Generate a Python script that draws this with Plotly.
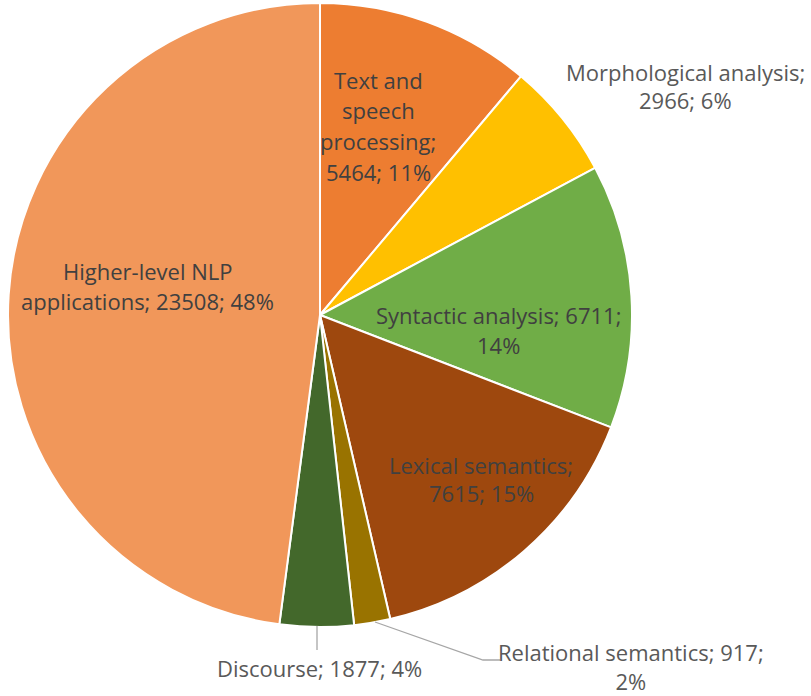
import plotly.graph_objects as go

W, H = 811, 696

categories = ["Text and speech processing", "Morphological analysis", "Syntactic analysis",
              "Lexical semantics", "Relational semantics", "Discourse", "Higher-level NLP applications"]
values = [5464, 2966, 6711, 7615, 917, 1877, 23508]
percents = ["11%", "6%", "14%", "15%", "2%", "4%", "48%"]
colors = ["#ED7D31", "#FFC000", "#70AD47", "#9E480E", "#997300", "#43682B", "#F1975A"]

FONT = "Open Sans"
FSIZE = 22
IN_COL = "#404040"
OUT_COL = "#595959"


def px(x):
    return x / W


def py(y):
    return 1 - y / H


fig = go.Figure(go.Pie(
    labels=categories, values=values, sort=False, direction="clockwise", rotation=0,
    marker=dict(colors=colors, line=dict(color="white", width=2)),
    textinfo="none", hoverinfo="label+value+percent", showlegend=False,
    domain=dict(x=[px(8), px(632)], y=[py(627), py(3)]),
))

v, p = values, percents
labels_spec = [
    # (lines, center x, first line center y, line spacing, color)
    (["Text and", "speech", "processing;", f"{v[0]}; {p[0]}"], 378, 80, 30.5, IN_COL),
    (["Morphological analysis;", f"{v[1]}; {p[1]}"], 685, 72, 28, OUT_COL),
    ([f"Syntactic analysis; {v[2]};", p[2]], 498, 315, 30, IN_COL),
    (["Lexical semantics;", f"{v[3]}; {p[3]}"], 481, 465, 28, IN_COL),
    ([f"Discourse; {v[5]}; {p[5]}"], 319, 668, 30, OUT_COL),
    (["Higher-level NLP", f"applications; {v[6]}; {p[6]}"], 147, 271, 30, IN_COL),
]

for lines, x, y0, dy, col in labels_spec:
    for i, line in enumerate(lines):
        fig.add_annotation(text=line, x=px(x), y=py(y0 + i * dy), xref="paper", yref="paper",
                           showarrow=False, xanchor="center", yanchor="middle", align="center",
                           font=dict(family=FONT, size=FSIZE, color=col))

# two-line label near the bottom edge as a single text block
fig.add_annotation(text=f"Relational semantics; {v[4]};<br>{p[4]}", x=px(631), y=py(666),
                   xref="paper", yref="paper", showarrow=False, xanchor="center",
                   yanchor="middle", align="center",
                   font=dict(family=FONT, size=FSIZE, color=OUT_COL))

# leader lines
fig.add_shape(type="path", xref="paper", yref="paper",
              path=f"M {px(375)} {py(622)} L {px(483)} {py(660)} L {px(500)} {py(660)}",
              line=dict(color="#A6A6A6", width=1.3))
fig.add_shape(type="line", xref="paper", yref="paper",
              x0=px(317), y0=py(626), x1=px(317), y1=py(650),
              line=dict(color="#A6A6A6", width=1.3))

fig.update_layout(width=W, height=H, margin=dict(l=0, r=0, t=0, b=0),
                  paper_bgcolor="white", plot_bgcolor="white")

fig.write_html("out.html", config={"displayModeBar": False},
               post_script="document.body.style.margin='0';")
